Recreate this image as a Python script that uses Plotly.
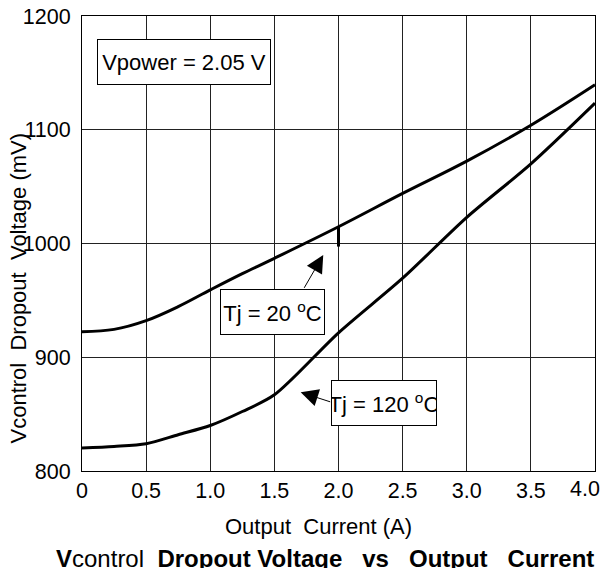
import plotly.graph_objects as go

# Data
current_a = [0, 0.25, 0.5, 0.75, 1.0, 1.25, 1.5, 2.0, 2.5, 3.0, 3.5, 4.0]
tj20_mv = [922.5, 924.5, 932.2, 944.5, 959.2, 973.5, 987.0, 1014.7, 1044.0, 1072.4, 1104.0, 1139.6]
tj120_mv = [820.2, 821.6, 824.0, 831.9, 840.0, 852.3, 867.0, 921.5, 969.5, 1023.0, 1070.0, 1123.4]

marker_x = [2.0, 2.0]
marker_mv = [1014.7, 997.3]

x_tickvals = [0, 0.5, 1.0, 1.5, 2.0, 2.5, 3.0, 3.5, 4.0]
x_ticktext = ["0", "0.5", "1.0", "1.5", "2.0", "2.5", "3.0", "3.5", "4.0"]
y_tickvals = [800, 900, 1000, 1100, 1200]
y_ticktext = ["800", "900", "1000", "1100", "1200"]

FONT = "Arial, Liberation Sans, sans-serif"
NB = "\u00a0"

fig = go.Figure()
fig.add_trace(go.Scatter(x=current_a, y=tj20_mv, mode="lines",
                         line=dict(color="black", width=3, shape="spline", smoothing=1.0),
                         showlegend=False, hoverinfo="skip"))
fig.add_trace(go.Scatter(x=current_a, y=tj120_mv, mode="lines",
                         line=dict(color="black", width=3, shape="spline", smoothing=0.8),
                         showlegend=False, hoverinfo="skip"))
fig.add_trace(go.Scatter(x=marker_x, y=marker_mv, mode="lines",
                         line=dict(color="black", width=3),
                         showlegend=False, hoverinfo="skip"))

axis_common = dict(showgrid=True, gridcolor="#222", gridwidth=1, zeroline=False,
                   showline=True, linecolor="black", linewidth=1, mirror=True,
                   tickfont=dict(family=FONT, size=21.5, color="black"), ticks="",
                   automargin=False, ticklabeloverflow="allow")

# last x tick label is drawn separately (nudged left like the reference, so it is not cut off)
shown_x_text = x_ticktext[:-1] + [""]
fig.update_xaxes(range=[0, 4], tickvals=x_tickvals, ticktext=shown_x_text,
                 ticklabelstandoff=0, **axis_common)
fig.update_yaxes(range=[800, 1200], tickvals=y_tickvals, ticktext=y_ticktext,
                 ticklabelstandoff=6, **axis_common)

ann = []
ann.append(dict(text=x_ticktext[-1], xref="paper", yref="paper",
                x=(584.5 - 82) / 513, y=(471 - 489) / 455, showarrow=False,
                xanchor="center", yanchor="middle", font=dict(family=FONT, size=21.5, color="black")))
# Axis titles and chart title
ann.append(dict(text=f"Output{NB}{NB}Current (A)", xref="paper", yref="paper",
                x=(318 - 82) / 513, y=(471 - 526.7) / 455, showarrow=False,
                xanchor="center", yanchor="middle", font=dict(family=FONT, size=22, color="black")))
ann.append(dict(text=f"Vcontrol{NB}{NB}Dropout{NB}{NB}Voltage (mV)", xref="paper", yref="paper",
                x=(17.5 - 82) / 513, y=(471 - 288) / 455, showarrow=False, textangle=-90,
                xanchor="center", yanchor="middle", font=dict(family=FONT, size=22, color="black")))
S3 = NB * 3
ann.append(dict(text=f"<b>V</b>control{NB}{NB}<b>Dropout{NB}Voltage{S3}vs{S3}Output{S3}Current</b>",
                xref="paper", yref="paper",
                x=(324.5 - 82) / 513, y=(471 - 558.3) / 455, showarrow=False,
                xanchor="center", yanchor="middle", font=dict(family=FONT, size=24, color="black")))

box_style = dict(showarrow=False, bgcolor="white", bordercolor="black", borderwidth=1,
                 borderpad=0, xanchor="center", yanchor="middle",
                 font=dict(family=FONT, size=22, color="black"))
ann.append(dict(text="Vpower = 2.05 V", x=0.795, y=1159.8, width=172, height=44, **box_style))
ann.append(dict(text="Tj = 20 <sup>o</sup>C", x=1.483, y=940.0, width=103, height=44, **box_style))
ann.append(dict(text="Tj = 120 <sup>o</sup>C", x=2.356, y=860.2, width=104, height=44, **box_style))

arrow_style = dict(text="", showarrow=True, axref="x", ayref="y", arrowhead=2,
                   arrowsize=3.5, arrowwidth=1, arrowcolor="black", standoff=0)
ann.append(dict(x=1.881, y=989.9, ax=1.726, ay=959.7, **arrow_style))
ann.append(dict(x=1.705, y=869.2, ax=1.947, ay=860.4, **arrow_style))

# page has an 8px body margin: figure sized/offset so the plot lands where the reference has it
fig.update_layout(width=600, height=560, margin=dict(l=74, r=13, t=8, b=97, autoexpand=False),
                  paper_bgcolor="white", plot_bgcolor="white", annotations=ann,
                  font=dict(family=FONT, color="black"))

fig.write_html("out.html")
